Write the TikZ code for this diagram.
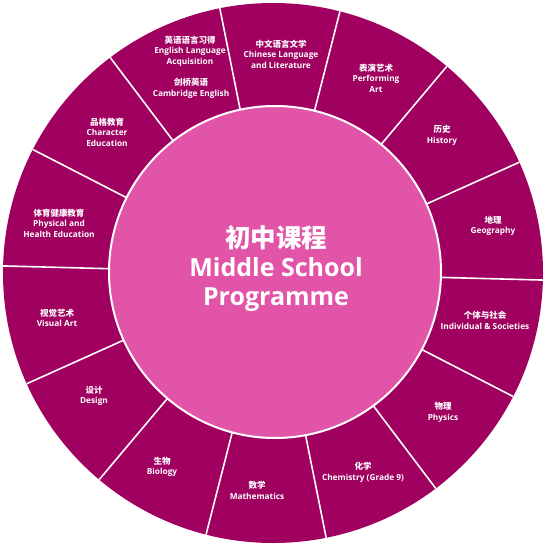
\documentclass[tikz,border=0pt]{standalone}
\usepackage{fontspec}
\usetikzlibrary{calc}
\setmainfont{Open Sans}
\newfontfamily\cjk{Noto Sans CJK SC}
\definecolor{ringcol}{RGB}{160,0,96}
\definecolor{hubcol}{RGB}{226,84,168}
\newcommand{\zhl}[1]{{\cjk\bfseries\fontsize{8.5}{10.5}\selectfont #1}}
\begin{document}
\begin{tikzpicture}[x=1pt,y=-1pt,
  lbl/.style={text=white,font=\bfseries\fontsize{8.3}{10.5}\selectfont,align=center,inner sep=0pt},
  sep/.style={draw=white,line width=1.6pt},
  title/.style={text=white,font=\bfseries\fontsize{25}{29}\selectfont,align=center,inner sep=0pt}]
\useasboundingbox (0,0) rectangle (544,546);
\fill[white] (0,0) rectangle (544,546);
\coordinate (c) at (273,273);
\fill[ringcol] (c) circle[radius=270];
\begin{scope}
\clip (c) circle[radius=270];
\foreach \a in {0,...,13}{
  \pgfmathsetmacro{\ang}{1.5-\a*360/14}
  \draw[sep] ($(c)+(\ang:150)$) -- ($(c)+(\ang:275)$);
}
\end{scope}
\node[circle,fill=hubcol,draw=white,line width=2pt,minimum size=332,inner sep=0pt] (hub) at (275,272) {};
\node[title] (t) at (276,268) {{\cjk\bfseries\fontsize{25.5}{29}\selectfont 初中课程}\\Middle School\\Programme};
\node[lbl] (ela) at (190,51) {\zhl{英语语言习得}\\English Language\\Acquisition};
\node[lbl] (ce) at (191,88.5) {\zhl{剑桥英语}\\Cambridge English};
\node[lbl] (chi) at (281,54) {\zhl{中文语言文学}\\Chinese Language\\and Literature};
\node[lbl] (perf) at (376,78) {\zhl{表演艺术}\\Performing\\Art};
\node[lbl] (hist) at (442,135.5) {\zhl{历史}\\History};
\node[lbl] (geo) at (493,226) {\zhl{地理}\\Geography};
\node[lbl] (ind) at (485,320.5) {\zhl{个体与社会}\\Individual \& Societies};
\node[lbl] (phys) at (443,412.5) {\zhl{物理}\\Physics};
\node[lbl] (chem) at (363,472.5) {\zhl{化学}\\Chemistry (Grade 9)};
\node[lbl] (math) at (257,490.5) {\zhl{数学}\\Mathematics};
\node[lbl] (bio) at (162,467) {\zhl{生物}\\Biology};
\node[lbl] (des) at (94,396) {\zhl{设计}\\Design};
\node[lbl] (vis) at (57,318) {\zhl{视觉艺术}\\Visual Art};
\node[lbl] (phe) at (59,223) {\zhl{体育健康教育}\\Physical and\\Health Education};
\node[lbl] (char) at (107,132) {\zhl{品格教育}\\Character\\Education};
\end{tikzpicture}
\end{document}
